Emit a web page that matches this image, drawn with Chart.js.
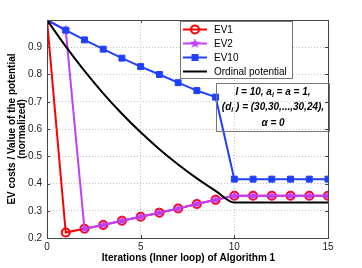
<!DOCTYPE html>
<html>
<head>
<meta charset="utf-8">
<script src="https://cdn.jsdelivr.net/npm/chart.js@4.4.1/dist/chart.umd.min.js"></script>
<style>
  html, body { margin: 0; padding: 0; background: #fff; }
  canvas { display: block; }
</style>
</head>
<body>
<canvas id="chart" width="362" height="268"></canvas>
<script>
// values
const iterations = [0, 1, 2, 3, 4, 5, 6, 7, 8, 9, 10, 11, 12, 13, 14, 15];
const ev1 = [1.0, 0.22, 0.234, 0.248, 0.263, 0.278, 0.293, 0.308, 0.325, 0.34, 0.355, 0.355, 0.355, 0.355, 0.355, 0.355];
const ev2 = [1.0, 0.963, 0.234, 0.248, 0.263, 0.278, 0.293, 0.308, 0.325, 0.34, 0.355, 0.355, 0.355, 0.355, 0.355, 0.355];
const ev10 = [1.0, 0.963, 0.927, 0.893, 0.86, 0.829, 0.8, 0.77, 0.741, 0.717, 0.416, 0.416, 0.416, 0.416, 0.416, 0.416];
const ordinal = [1.0, 0.903, 0.813, 0.731, 0.656, 0.588, 0.526, 0.47, 0.419, 0.373, 0.33, 0.33, 0.33, 0.33, 0.33, 0.33];
const seriesNames = ['EV1', 'EV2', 'EV10', 'Ordinal potential'];
const xTicks = [0, 5, 10, 15];

const RED = '#ff0000', PURPLE = '#bf40ff', BLUE = '#2040ff', BLACK = '#000000';
const FONT = '"Liberation Sans", Arial, sans-serif';

const toXY = arr => arr.map((v, i) => ({ x: iterations[i], y: v }));

// filled 5-point star like matlab 'p'
function makeStar(size, color) {
    const c = document.createElement('canvas');
    c.width = size; c.height = size;
    const g = c.getContext('2d');
    const cx = size / 2, cy = size / 2, ro = size / 2, ri = ro * 0.42;
    g.beginPath();
    for (let i = 0; i < 10; i++) {
        const r = i % 2 === 0 ? ro : ri;
        const a = -Math.PI / 2 + i * Math.PI / 5;
        const px = cx + r * Math.cos(a), py = cy + r * Math.sin(a);
        i === 0 ? g.moveTo(px, py) : g.lineTo(px, py);
    }
    g.closePath();
    g.fillStyle = color;
    g.fill();
    return c;
}
const starImg = makeStar(11, PURPLE);

function drawMarker(ctx, kind, x, y) {
    ctx.save();
    if (kind === 'circle') {
        ctx.strokeStyle = RED; ctx.lineWidth = 2;
        ctx.beginPath(); ctx.arc(x, y, 4, 0, Math.PI * 2); ctx.stroke();
    } else if (kind === 'star') {
        ctx.drawImage(starImg, x - 5.5, y - 5.5);
    } else if (kind === 'rect') {
        ctx.fillStyle = BLUE;
        ctx.fillRect(x - 3.5, y - 3.5, 7, 7);
    }
    ctx.restore();
}

const decor = {
    id: 'decor',
    afterDraw(chart) {
        const ctx = chart.ctx;
        const a = chart.chartArea;
        const xs = chart.scales.x, ys = chart.scales.y;
        ctx.save();
        // axes box
        ctx.strokeStyle = '#444';
        ctx.lineWidth = 1;
        ctx.strokeRect(Math.round(a.left) + 0.5, Math.round(a.top) + 0.5, Math.round(a.right - a.left), Math.round(a.bottom - a.top));
        // inward ticks
        ctx.beginPath();
        xTicks.forEach(t => {
            const px = Math.round(xs.getPixelForValue(t)) + 0.5;
            ctx.moveTo(px, a.bottom); ctx.lineTo(px, a.bottom - 3);
            ctx.moveTo(px, a.top); ctx.lineTo(px, a.top + 3);
        });
        for (let v = 2; v <= 10; v++) {
            const py = Math.round(ys.getPixelForValue(v / 10)) + 0.5;
            ctx.moveTo(a.left, py); ctx.lineTo(a.left + 3, py);
            ctx.moveTo(a.right, py); ctx.lineTo(a.right - 3, py);
        }
        ctx.stroke();

        // axis titles
        ctx.fillStyle = '#000';
        ctx.font = 'bold 10px ' + FONT;
        ctx.textAlign = 'center';
        ctx.textBaseline = 'middle';
        ctx.fillText('Iterations (Inner loop) of Algorithm 1', (a.left + a.right) / 2 + 1, 258);
        ctx.save();
        ctx.translate(12, (a.top + a.bottom) / 2);
        ctx.rotate(-Math.PI / 2);
        ctx.fillText('EV costs / Value of the potential', 0, 0);
        ctx.fillText('(normalized)', 0, 10.5);
        ctx.restore();

        // legend
        const lx = 180.5, ly = 21.5, lw = 112, lh = 57;
        ctx.fillStyle = '#fff';
        ctx.fillRect(lx, ly, lw, lh);
        ctx.strokeStyle = '#777';
        ctx.strokeRect(lx, ly, lw, lh);
        const colors = [RED, PURPLE, BLUE, BLACK];
        const marks = ['circle', 'star', 'rect', null];
        ctx.font = '10px ' + FONT;
        ctx.textAlign = 'left';
        seriesNames.forEach((name, i) => {
            const y = 29.5 + i * 14;
            ctx.strokeStyle = colors[i];
            ctx.lineWidth = 2;
            ctx.beginPath(); ctx.moveTo(183, y); ctx.lineTo(207, y); ctx.stroke();
            if (marks[i]) drawMarker(ctx, marks[i], 195, y);
            ctx.fillStyle = '#000';
            ctx.fillText(name, 214, y + 0.5);
        });

        // annotation box
        ctx.strokeStyle = '#777';
        ctx.lineWidth = 1;
        ctx.strokeRect(216.5, 83.5, 113, 48);
        const cx = 273;
        const big = 'italic bold 10px ' + FONT, small = 'italic bold 7px ' + FONT;
        const lines = [
            { y: 92, parts: [['I = 10, a', big], ['i', small], [' = a = 1,', big]] },
            { y: 107, parts: [['(d', big], ['i', small], [' ) = (30,30,...,30,24),', big]] },
            { y: 123, parts: [['\u03b1 = 0', big]] }
        ];
        ctx.fillStyle = '#000';
        lines.forEach(line => {
            let total = 0;
            line.parts.forEach(p => { ctx.font = p[1]; total += ctx.measureText(p[0]).width; });
            let x = cx - total / 2;
            line.parts.forEach(p => {
                ctx.font = p[1];
                const dy = p[1] === small ? 3 : 0;
                ctx.fillText(p[0], x, line.y + dy);
                x += ctx.measureText(p[0]).width;
            });
        });
        ctx.restore();
    }
};

const ctx = document.getElementById('chart').getContext('2d');
new Chart(ctx, {
    type: 'line',
    data: {
        datasets: [
            {
                label: seriesNames[0], data: toXY(ev1), order: 4,
                borderColor: RED, borderWidth: 2, pointStyle: 'circle', pointRadius: 4,
                pointBorderColor: RED, pointBorderWidth: 2, pointBackgroundColor: 'rgba(0,0,0,0)'
            },
            {
                label: seriesNames[1], data: toXY(ev2), order: 3,
                borderColor: PURPLE, borderWidth: 2, pointStyle: starImg, pointRadius: 5
            },
            {
                label: seriesNames[2], data: toXY(ev10), order: 2,
                borderColor: BLUE, borderWidth: 2, pointStyle: 'rect', pointRadius: 4.2,
                pointBorderColor: BLUE, pointBorderWidth: 1, pointBackgroundColor: BLUE
            },
            {
                label: seriesNames[3], data: toXY(ordinal), order: 1,
                borderColor: BLACK, borderWidth: 2, pointRadius: 0,
                cubicInterpolationMode: 'monotone'
            }
        ]
    },
    options: {
        responsive: false,
        animation: false,
        devicePixelRatio: 1,
        layout: { padding: { top: 20, right: 34, left: 0, bottom: 0 } },
        plugins: { legend: { display: false }, tooltip: { enabled: false } },
        scales: {
            x: {
                type: 'linear', min: 0, max: 15,
                afterFit: s => { s.height = 30; },
                ticks: { stepSize: 5, padding: 3, color: '#222', font: { family: FONT, size: 10 }, maxRotation: 0 },
                grid: { color: '#c4c4c4', drawTicks: false },
                border: { display: false, dash: [1, 2] }
            },
            y: {
                min: 0.2, max: 1.0,
                afterFit: s => { s.width = 47; },
                ticks: {
                    stepSize: 0.1, padding: 5, color: '#222', font: { family: FONT, size: 10 },
                    callback: v => v > 0.99 ? '' : v.toFixed(1)
                },
                grid: { color: '#c4c4c4', drawTicks: false },
                border: { display: false, dash: [1, 2] }
            }
        }
    },
    plugins: [decor]
});
</script>
</body>
</html>
